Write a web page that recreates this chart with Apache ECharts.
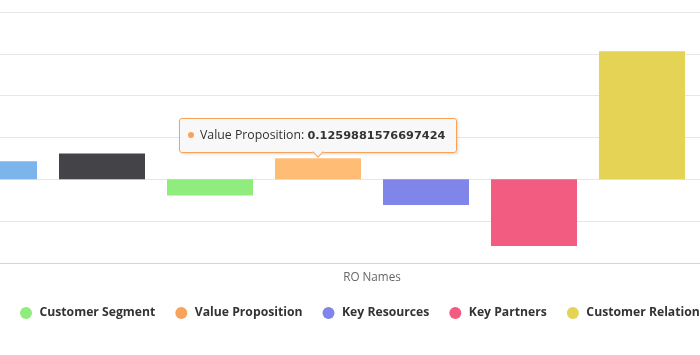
<!DOCTYPE html>
<html>
<head>
<meta charset="utf-8">
<script src="https://cdn.jsdelivr.net/npm/echarts@6/dist/echarts.min.js"></script>
<style>
  html, body { margin: 0; padding: 0; background: #ffffff; }
  #chart { width: 700px; height: 355px; }
</style>
</head>
<body>
<div id="chart"></div>
<script>
// ---- data ----
const categories = ['RO Names'];
const seriesNames = ['Key Activities', 'Channels', 'Customer Segment', 'Value Proposition', 'Key Resources', 'Key Partners', 'Customer Relationships', 'Cost Structure'];
const seriesValues = [0.108, 0.155, -0.097, 0.1259881576697424, -0.153, -0.398, 0.765, null];
const seriesColors = ['#7cb5ec', '#434348', '#90ed7d', '#f7a35c', '#8085e9', '#f15c80', '#e4d354', '#2b908f'];
const legendNames = ['Customer Segment', 'Value Proposition', 'Key Resources', 'Key Partners', 'Customer Relationships'];
const yMin = -0.5, yMax = 1, yStep = 0.25;
const hoveredIndex = 3;
const hoveredColor = '#ffbc75';

const chart = echarts.init(document.getElementById('chart'), null, { renderer: 'canvas' });

const series = seriesNames.map((name, i) => ({
  name: name,
  type: 'bar',
  data: [i === hoveredIndex ? { value: seriesValues[i], itemStyle: { color: hoveredColor } } : seriesValues[i]],
  barWidth: 86,
  barGap: '25.58%',
  itemStyle: { color: seriesColors[i] },
  emphasis: { disabled: true }
}));

const arrowHtml = '<div style="position:absolute;left:50%;bottom:-4px;margin-left:-4px;width:7px;height:7px;' +
  'background:#f8f8f8;border-right:1px solid #f7a35c;border-bottom:1px solid #f7a35c;transform:rotate(45deg);"></div>';

chart.setOption({
  animation: false,
  grid: { left: -150, width: 1044, top: 12, bottom: 92, outerBoundsMode: 'none', containLabel: false },
  xAxis: {
    type: 'category',
    data: categories,
    axisTick: { show: false },
    axisLine: { onZero: false, lineStyle: { color: '#ccd6eb', width: 1 } },
    axisLabel: { margin: 9, color: '#666666', fontFamily: 'Open Sans', fontSize: 11.7 },
    splitLine: { show: false }
  },
  yAxis: {
    type: 'value',
    min: yMin, max: yMax, interval: yStep,
    axisLabel: { show: false },
    axisLine: { show: false },
    axisTick: { show: false },
    splitLine: { lineStyle: { color: '#e6e6e6', width: 1 } }
  },
  legend: {
    data: legendNames,
    left: 15,
    top: 302,
    width: 1200,
    icon: 'circle',
    itemWidth: 17,
    itemHeight: 12,
    itemGap: 20,
    textStyle: { fontFamily: 'Open Sans', fontWeight: 'bold', fontSize: 12.2, color: '#333333' }
  },
  tooltip: {
    trigger: 'item',
    triggerOn: 'none',
    alwaysShowContent: true,
    transitionDuration: 0,
    backgroundColor: 'rgba(247,247,247,0.85)',
    borderColor: '#f7a35c',
    borderWidth: 1,
    borderRadius: 3,
    padding: [7, 11, 7, 8],
    shadowBlur: 3,
    shadowColor: 'rgba(0,0,0,0.15)',
    shadowOffsetX: 1,
    shadowOffsetY: 1,
    textStyle: { color: '#333333', fontFamily: 'Open Sans', fontSize: 12.3 },
    position: function (point, params, dom, rect, size) {
      return [rect.x + rect.width / 2 - size.contentSize[0] / 2, rect.y - size.contentSize[1] - 5];
    },
    formatter: function (p) {
      const c = seriesColors[p.seriesIndex];
      return '<span style="display:inline-block;width:6px;height:6px;border-radius:50%;background:' + c +
        ';margin-right:6px;vertical-align:middle;position:relative;top:-1px"></span>' +
        p.seriesName + ': <b style="font-family:\'DejaVu Sans\';font-size:11.3px">' + p.value + '</b>' + arrowHtml;
    }
  },
  series: series
});

chart.dispatchAction({ type: 'showTip', seriesIndex: hoveredIndex, dataIndex: 0 });
</script>
</body>
</html>
